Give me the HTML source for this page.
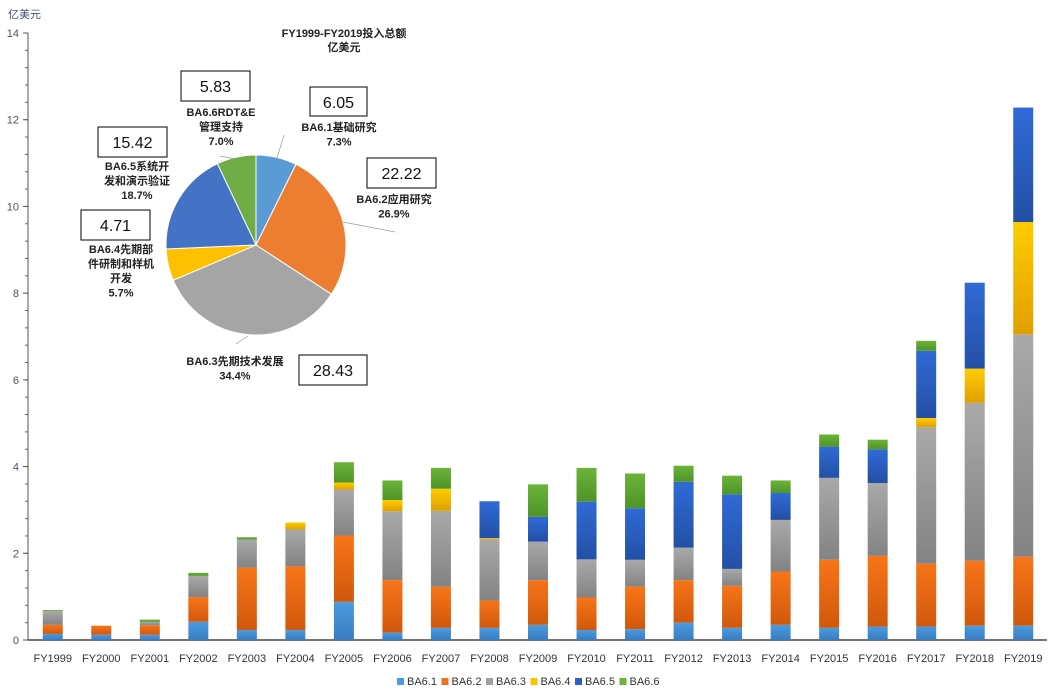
<!DOCTYPE html>
<html><head><meta charset="utf-8"><style>
body{margin:0;background:#fff;}
svg{display:block;font-family:"Liberation Sans","Noto Sans CJK SC",sans-serif;}
</style></head><body>
<svg id="chart" width="1057" height="698" viewBox="0 0 1057 698">
<defs>
<linearGradient id="g1" x1="0" y1="0" x2="0" y2="1"><stop offset="0" stop-color="#4a9be0"/><stop offset="1" stop-color="#3a7cc0"/></linearGradient>
<linearGradient id="g2" x1="0" y1="0" x2="0" y2="1"><stop offset="0" stop-color="#f87518"/><stop offset="1" stop-color="#d0580c"/></linearGradient>
<linearGradient id="g3" x1="0" y1="0" x2="0" y2="1"><stop offset="0" stop-color="#a9a9a9"/><stop offset="1" stop-color="#838383"/></linearGradient>
<linearGradient id="g4" x1="0" y1="0" x2="0" y2="1"><stop offset="0" stop-color="#ffcc00"/><stop offset="1" stop-color="#e0a000"/></linearGradient>
<linearGradient id="g5" x1="0" y1="0" x2="0" y2="1"><stop offset="0" stop-color="#306ad6"/><stop offset="1" stop-color="#2350a6"/></linearGradient>
<linearGradient id="g6" x1="0" y1="0" x2="0" y2="1"><stop offset="0" stop-color="#6cb33a"/><stop offset="1" stop-color="#4e9428"/></linearGradient>
</defs>
<g id="axes"></g><g id="bars"></g><g id="pie"></g><g id="legend"></g>
</svg>
<script>
const categories=["FY1999","FY2000","FY2001","FY2002","FY2003","FY2004","FY2005","FY2006","FY2007","FY2008","FY2009","FY2010","FY2011","FY2012","FY2013","FY2014","FY2015","FY2016","FY2017","FY2018","FY2019"];
const seriesNames=["BA6.1","BA6.2","BA6.3","BA6.4","BA6.5","BA6.6"];
const ba61=[0.14,0.12,0.12,0.42,0.23,0.23,0.88,0.17,0.28,0.28,0.35,0.23,0.25,0.40,0.28,0.35,0.28,0.31,0.31,0.33,0.33];
const ba62=[0.21,0.21,0.22,0.57,1.44,1.47,1.53,1.21,0.95,0.63,1.03,0.75,0.98,0.98,0.97,1.23,1.57,1.63,1.45,1.50,1.59];
const ba63=[0.32,0,0.08,0.49,0.65,0.85,1.06,1.59,1.75,1.41,0.89,0.88,0.62,0.75,0.39,1.19,1.89,1.68,3.15,3.64,5.13];
const ba64=[0,0,0,0,0,0.16,0.16,0.26,0.51,0.03,0,0,0,0,0,0,0,0,0.21,0.79,2.59];
const ba65=[0,0,0,0,0,0,0,0,0,0.85,0.57,1.33,1.19,1.52,1.72,0.62,0.72,0.78,1.55,1.98,2.64];
const ba66=[0.02,0,0.05,0.07,0.05,0,0.47,0.45,0.48,0,0.75,0.78,0.80,0.37,0.43,0.29,0.28,0.22,0.23,0,0];
const yTicks=[0,2,4,6,8,10,12,14];
const pieValues=[6.05,22.22,28.43,4.71,15.42,5.83];
const piePercents=["7.3%","26.9%","34.4%","5.7%","18.7%","7.0%"];
const pieValueLabels=["6.05","22.22","28.43","4.71","15.42","5.83"];
const series=[ba61,ba62,ba63,ba64,ba65,ba66];
const fills=["url(#g1)","url(#g2)","url(#g3)","url(#g4)","url(#g5)","url(#g6)"];
const pieColors=["#5b9bd5","#ed7d31","#a5a5a5","#ffc000","#4472c4","#70ad47"];
const legendColors=["#4a9be0","#f07020","#a0a0a0","#ffc000","#2e5fc0","#6cb33a"];
const NS="http://www.w3.org/2000/svg";
function mk(tag,attrs,parent,text){const e=document.createElementNS(NS,tag);for(const k in attrs)e.setAttribute(k,attrs[k]);if(text!==undefined)e.textContent=text;parent.appendChild(e);return e;}
const X0=28,X1=1047,Y0=640,Ytop=33,YMAX=14;
const y=v=>Y0-(v/YMAX)*(Y0-Ytop);
const step=(X1-X0)/categories.length;
const xc=i=>X0+step*(i+0.5)+0.5;
const axes=document.getElementById('axes');
let a=mk('line',{x1:X0,y1:Ytop,x2:X0,y2:Y0,stroke:'#555','stroke-width':1},axes);


for(let v=0;v<=YMAX+0.001;v+=0.4){const t=mk('line',{x1:X0-3,y1:y(v),x2:X0,y2:y(v),stroke:'#666','stroke-width':1},axes);}
yTicks.forEach(v=>{
 const t=mk('line',{x1:X0-5,y1:y(v),x2:X0,y2:y(v),stroke:'#555'},axes);
 
 
 const l=mk('text',{x:X0-9,y:y(v)+4,'text-anchor':'end','font-size':11,fill:'#44546a'},axes,String(v));
 
 
});
const yt=mk('text',{x:8,y:18,'font-size':11,fill:'#44546a'},axes,'亿美元');


const xa=mk('line',{x1:X0,y1:Y0,x2:X1,y2:Y0,stroke:'#222','stroke-width':1.2},axes);


const bars=document.getElementById('bars');
categories.forEach((c,i)=>{
 let cum=0;
 series.forEach((s,k)=>{
  const v=s[i]; if(v<=0)return;
  const r=mk('rect',{x:xc(i)-10,y:y(cum+v),width:20,height:y(cum)-y(cum+v),fill:fills[k]},bars);
  
  
  cum+=v;
 });
 const l=mk('text',{x:xc(i),y:662,'text-anchor':'middle','font-size':11,fill:'#333'},bars,c);
 
 
});
// pie
const pie=document.getElementById('pie');
const cx=256,cy=245,R=90;
const tot=pieValues.reduce((p,q)=>p+q,0);
let ang=0;
pieValues.forEach((v,k)=>{
 const a0=ang,a1=ang+v/tot*2*Math.PI; ang=a1;
 const p0=[cx+R*Math.sin(a0),cy-R*Math.cos(a0)],p1=[cx+R*Math.sin(a1),cy-R*Math.cos(a1)];
 const s=mk('path',{d:`M${cx},${cy}L${p0[0]},${p0[1]}A${R},${R} 0 ${a1-a0>Math.PI?1:0} 1 ${p1[0]},${p1[1]}Z`,fill:pieColors[k],stroke:'#fff','stroke-width':1},pie);
 
 
});
const pt=mk('text',{x:344,y:37,'text-anchor':'middle','font-size':11,'font-weight':'bold',fill:'#222'},pie,'FY1999-FY2019投入总额');


const pt2=mk('text',{x:344,y:51,'text-anchor':'middle','font-size':11,'font-weight':'bold',fill:'#222'},pie,'亿美元');


const labelDefs=[
 {lines:["BA6.1基础研究"],cx:339,ty:131,box:[310,87,57,29]},
 {lines:["BA6.2应用研究"],cx:394,ty:203,box:[367,158,69,30]},
 {lines:["BA6.3先期技术发展"],cx:235,ty:365,box:[299,355,68,30]},
 {lines:["BA6.4先期部","件研制和样机","开发"],cx:121,ty:253,box:[81,210,69,30]},
 {lines:["BA6.5系统开","发和演示验证"],cx:137,ty:170,box:[98,127,69,30]},
 {lines:["BA6.6RDT&E","管理支持"],cx:221,ty:116,box:[181,71,69,30]}
];
labelDefs.forEach((d,k)=>{
 const b=mk('rect',{x:d.box[0],y:d.box[1],width:d.box[2],height:d.box[3],fill:'#fff',stroke:'#000','stroke-width':1},pie);
 
 
 const bt=mk('text',{x:d.box[0]+d.box[2]/2,y:d.box[1]+21,'text-anchor':'middle','font-size':16,fill:'#111'},pie,pieValueLabels[k]);
 
 
 const lines=d.lines.concat([piePercents[k]]);
 lines.forEach((ln,j)=>{
  const t=mk('text',{x:d.cx,y:d.ty+j*14.5,'text-anchor':'middle','font-size':11,'font-weight':'bold',fill:'#222'},pie,ln);
  
  
 });
});
[[277,158,284,135],[343,222,395,232],[248,336,236,344],[220,156,235,159]].forEach(l=>{
 const e=mk('line',{x1:l[0],y1:l[1],x2:l[2],y2:l[3],stroke:'#999','stroke-width':0.7},pie);
 
 
});
// legend
const lg=document.getElementById('legend');
seriesNames.forEach((n,k)=>{
 const x=397+k*44.5;
 const r=mk('rect',{x:x,y:678,width:7,height:7,fill:legendColors[k]},lg);
 
 
 const t=mk('text',{x:x+10,y:685,'font-size':11,fill:'#333'},lg,n);
 
 
});
</script>
</body></html>
